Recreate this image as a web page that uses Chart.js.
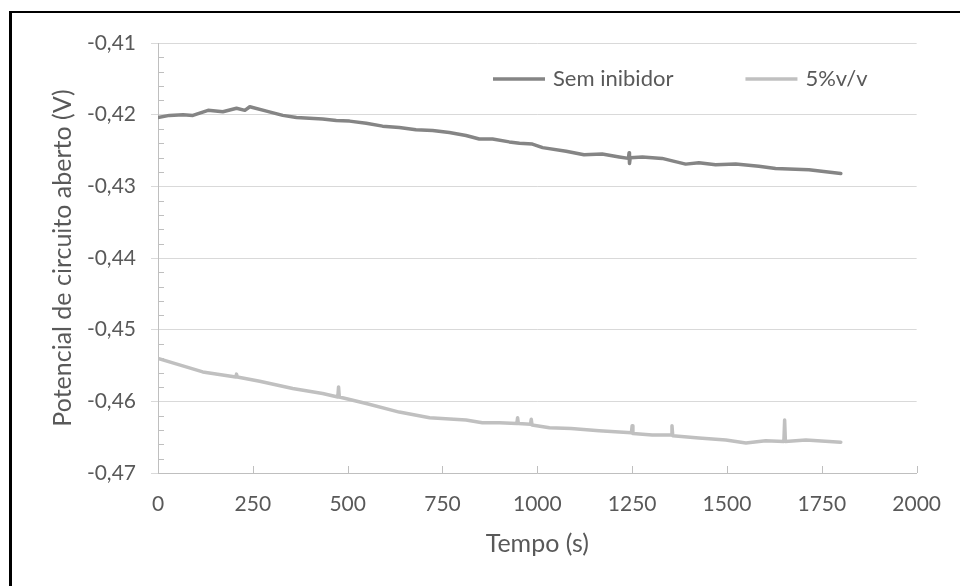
<!DOCTYPE html>
<html lang="pt">
<head>
<meta charset="utf-8">
<title>Potencial de circuito aberto</title>
<script src="https://cdn.jsdelivr.net/npm/chart.js@4.4.1/dist/chart.umd.min.js"></script>
<style>
  html, body { margin: 0; padding: 0; background: #fff; }
  #wrap { position: relative; width: 960px; height: 586px; overflow: hidden; }
  #frame {
    position: absolute; left: 9px; top: 11px; width: 1000px; height: 1000px;
    border-left: 3px solid #000; border-top: 2px solid #000;
  }
  #chart { position: absolute; left: 0; top: 0; }
</style>
</head>
<body>
<div id="wrap">
  <div id="frame"></div>
  <canvas id="chart" width="960" height="586"></canvas>
</div>
<script>
// Open circuit potential vs time

const seriesNames = ["Sem inibidor", "5%v/v"];
const seriesColors = ["#858585", "#c0c0c0"];

// Sem inibidor
const semTimes = [
  0, 30, 66, 92, 132, 171, 207, 229, 242, 286, 329, 365, 434, 470, 505,
  549, 592, 636, 680, 724, 768, 812, 847, 882, 926, 953, 987, 1014, 1076,
  1123, 1171, 1216, 1240, 1242, 1243, 1245, 1277, 1329, 1391, 1426, 1470,
  1523, 1584, 1628, 1716, 1800
];
const semValues = [
  -0.4204, -0.4201, -0.4200, -0.4201, -0.4194, -0.4196, -0.4191, -0.4194,
  -0.4189, -0.4195, -0.4201, -0.4204, -0.4206, -0.4208, -0.4209, -0.4212,
  -0.4216, -0.4218, -0.4221, -0.4222, -0.4225, -0.4229, -0.4234, -0.4234,
  -0.4238, -0.4240, -0.4241, -0.4246, -0.4251, -0.4256, -0.4255, -0.4259,
  -0.4261, -0.4253, -0.4268, -0.4260, -0.4259, -0.4261, -0.4269, -0.4267,
  -0.4270, -0.4269, -0.4272, -0.4275, -0.4277, -0.4282
];

// 5%v/v
const inibTimes = [
  0, 50, 118, 205, 207, 209, 268, 355, 434, 474, 476, 478, 549, 636, 716,
  812, 855, 900, 946, 948, 950, 982, 984, 986, 1032, 1089, 1163, 1248, 1250,
  1252, 1303, 1353, 1355, 1357, 1426, 1497, 1550, 1602, 1650, 1652, 1654,
  1708, 1800
];
const inibValues = [
  -0.4540, -0.4548, -0.4559, -0.4566, -0.4562, -0.4566, -0.4572, -0.4582,
  -0.4589, -0.4594, -0.4580, -0.4594, -0.4603, -0.4615, -0.4623, -0.4626,
  -0.4630, -0.4630, -0.4631, -0.4623, -0.4631, -0.4632, -0.4625, -0.4633,
  -0.4637, -0.4638, -0.4641, -0.4644, -0.4634, -0.4645, -0.4647, -0.4647,
  -0.4634, -0.4648, -0.4651, -0.4654, -0.4658, -0.4655, -0.4656, -0.4626,
  -0.4656, -0.4654, -0.4657
];

const yTickValues = [-0.47, -0.46, -0.45, -0.44, -0.43, -0.42, -0.41];
const xTickStep = 250;

const textColor = "#595959";
const gridColor = "#d9d9d9";
const axisColor = "#bfbfbf";

Chart.defaults.font.family = "Lato";
Chart.defaults.font.size = 21;
Chart.defaults.color = textColor;

function toPoints(times, values) {
  return times.map((t, i) => ({ x: t, y: values[i] }));
}

// Excel-style tick marks: x major ticks inside, y minor ticks inside
const innerTicks = {
  id: "innerTicks",
  beforeDatasetsDraw(chart) {
    const { ctx, chartArea, scales } = chart;
    ctx.save();
    ctx.strokeStyle = axisColor;
    ctx.lineWidth = 1;
    ctx.beginPath();
    scales.x.ticks.forEach((tick) => {
      const px = Math.round(scales.x.getPixelForValue(tick.value)) + 0.5;
      ctx.moveTo(px, chartArea.bottom);
      ctx.lineTo(px, chartArea.bottom - 7);
    });
    for (let k = 0; k <= 30; k++) {
      if (k % 5 === 0) continue;
      const py = Math.round(scales.y.getPixelForValue(-0.47 + k * 0.002)) + 0.5;
      ctx.moveTo(chartArea.left, py);
      ctx.lineTo(chartArea.left + 6, py);
    }
    ctx.stroke();
    ctx.restore();
  },
};

// Legend drawn inside the plot area, top right
const insideLegend = {
  id: "insideLegend",
  afterDatasetsDraw(chart) {
    const { ctx, chartArea } = chart;
    const y = chartArea.top + 36;
    let x = chartArea.left + 335;
    ctx.save();
    ctx.font = "22px Lato";
    ctx.textBaseline = "middle";
    ctx.textAlign = "left";
    chart.data.datasets.forEach((ds) => {
      ctx.strokeStyle = ds.borderColor;
      ctx.lineWidth = 3.5;
      ctx.beginPath();
      ctx.moveTo(x, y);
      ctx.lineTo(x + 52, y);
      ctx.stroke();
      ctx.fillStyle = textColor;
      ctx.fillText(ds.label, x + 60, y);
      x += 60 + ctx.measureText(ds.label).width + 72;
    });
    ctx.restore();
  },
};

const ctx = document.getElementById("chart").getContext("2d");

new Chart(ctx, {
  type: "line",
  data: {
    datasets: [
      {
        label: seriesNames[0],
        data: toPoints(semTimes, semValues),
        borderColor: seriesColors[0],
        borderWidth: 3.5,
        borderJoinStyle: "round",
        borderCapStyle: "round",
        pointRadius: 0,
        tension: 0,
      },
      {
        label: seriesNames[1],
        data: toPoints(inibTimes, inibValues),
        borderColor: seriesColors[1],
        borderWidth: 3.5,
        borderJoinStyle: "round",
        borderCapStyle: "round",
        pointRadius: 0,
        tension: 0,
      },
    ],
  },
  options: {
    responsive: false,
    animation: false,
    layout: {
      padding: { left: 0, top: 43, right: 41, bottom: 0 },
    },
    plugins: {
      legend: { display: false },
      tooltip: { enabled: false },
    },
    scales: {
      x: {
        type: "linear",
        min: 0,
        max: 2000,
        ticks: {
          stepSize: xTickStep,
          padding: 19,
          maxRotation: 0,
          callback: (v) => String(v),
        },
        grid: { drawOnChartArea: false, drawTicks: false },
        border: { color: axisColor },
        title: {
          display: true,
          text: "Tempo (s)",
          font: { size: 25 },
          padding: { top: 0, bottom: 27 },
        },
        afterFit: (scale) => {
          scale.height = 113;
        },
      },
      y: {
        min: -0.47,
        max: -0.41,
        afterBuildTicks: (scale) => {
          scale.ticks = yTickValues.map((v) => ({ value: v }));
        },
        ticks: {
          padding: 15,
          callback: (v) => v.toFixed(2).replace(".", ","),
        },
        grid: { color: gridColor, tickLength: 7, tickColor: gridColor },
        border: { color: axisColor },
        title: {
          display: true,
          text: "Potencial de circuito aberto (V)",
          font: { size: 25 },
          padding: { top: 48, bottom: 0 },
        },
        afterFit: (scale) => {
          scale.width = 158;
        },
      },
    },
  },
  plugins: [innerTicks, insideLegend],
});
</script>
</body>
</html>
